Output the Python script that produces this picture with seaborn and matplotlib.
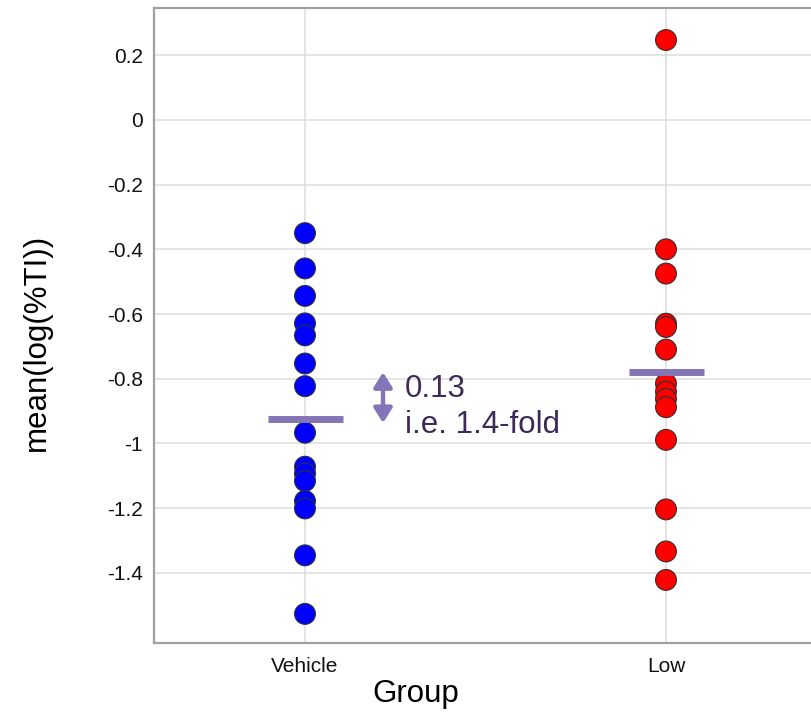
import matplotlib
matplotlib.use('Agg')
import matplotlib.pyplot as plt
import seaborn as sns
import pandas as pd

# ---- data ----
groups = ['Vehicle', 'Low']
vehicle_values = [-0.350, -0.459, -0.544, -0.629, -0.666, -0.753, -0.823, -0.967,
                  -1.072, -1.093, -1.116, -1.178, -1.201, -1.346, -1.527]
low_values = [0.247, -0.400, -0.475, -0.630, -0.640, -0.710, -0.815, -0.840,
              -0.862, -0.888, -0.989, -1.204, -1.334, -1.422]
group_means = [-0.926, -0.778]
point_colors = ['#0000ff', '#ff0000']
y_ticks = [0.2, 0, -0.2, -0.4, -0.6, -0.8, -1, -1.2, -1.4]
diff_label = '0.13'
fold_label = 'i.e. 1.4-fold'
arrow_top, arrow_bottom = -0.780, -0.937

df = pd.DataFrame({
    'Group': ['Vehicle'] * len(vehicle_values) + ['Low'] * len(low_values),
    'value': vehicle_values + low_values,
})
mean_df = pd.DataFrame({'Group': groups, 'mean': group_means})

sns.set_style('whitegrid', {'grid.color': '#dcdcdc', 'axes.edgecolor': '#a0a0a0'})
plt.rcParams['font.family'] = ['Liberation Sans', 'DejaVu Sans']
plt.rcParams['axes.unicode_minus'] = False

W, H = 812, 712
fig = plt.figure(figsize=(W / 100, H / 100), dpi=100)
ax_left, ax_top, ax_bottom, ax_right = 154, 8, 643, 840
ax = fig.add_axes([ax_left / W, (H - ax_bottom) / H,
                   (ax_right - ax_left) / W, (ax_bottom - ax_top) / H])

sns.stripplot(data=df, x='Group', y='value', hue='Group', order=groups,
              hue_order=groups, palette=point_colors, jitter=False, size=15,
              linewidth=0.8, edgecolor='#303030', legend=False, ax=ax, zorder=3)
sns.pointplot(data=mean_df, x='Group', y='mean', order=groups, errorbar=None,
              linestyle='none', marker='_', markersize=54, markeredgewidth=5,
              color='#8474b8', ax=ax, zorder=4)

# axis geometry
px_per_cat = 361
ax.set_xlim(-(305 - ax_left) / px_per_cat, (ax_right - 305) / px_per_cat)
ax.set_ylim(-1.617, 0.346)
ax.set_yticks(y_ticks)
ax.set_yticklabels([f'{v:g}' for v in y_ticks])
ax.grid(True, axis='both', color='#dcdcdc', linewidth=1.1, zorder=0)
ax.set_axisbelow(True)

for side in ['left', 'top', 'bottom']:
    ax.spines[side].set_color('#a0a0a0')
    ax.spines[side].set_linewidth(1.6)
ax.spines['right'].set_visible(False)

ax.tick_params(axis='both', which='major', length=4, width=1, color='#808080',
               labelsize=15, labelcolor='#111111', pad=4)
ax.tick_params(axis='x', pad=6)

ax.set_xlabel('Group', fontsize=22.5, color='#000000')
ax.set_ylabel('mean(log(%TI))', fontsize=22.5, color='#000000')
ax.xaxis.set_label_coords((416 - ax_left) / (ax_right - ax_left), -(694 - ax_bottom) / (ax_bottom - ax_top))
ax.xaxis.label.set_va('center')
ax.yaxis.set_label_coords((37 - ax_left) / (ax_right - ax_left), (ax_bottom - 342) / (ax_bottom - ax_top))
ax.yaxis.label.set_va('center')

# annotation arrow and text
arrow_x = (383 - 305) / px_per_cat
ax.annotate('', xy=(arrow_x, arrow_top), xytext=(arrow_x, arrow_bottom),
            arrowprops=dict(arrowstyle='<|-|>,head_length=0.4,head_width=0.25',
                            color='#8474b8', lw=3.2,
                            mutation_scale=22, shrinkA=0, shrinkB=0), zorder=5)
text_x = (405 - 305) / px_per_cat
ax.text(text_x, -0.855, diff_label, fontsize=22.5, color='#3d2a57', va='baseline', ha='left')
ax.text(text_x, -0.967, fold_label, fontsize=22.5, color='#3d2a57', va='baseline', ha='left')

fig.savefig('out.png', dpi=100)
